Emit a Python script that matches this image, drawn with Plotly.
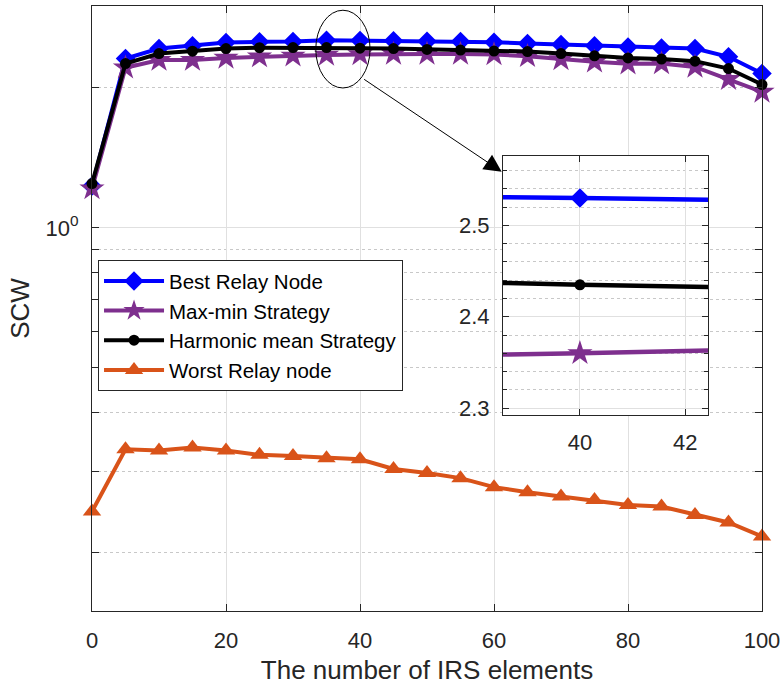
import plotly.graph_objects as go

# ---------------- data ----------------
irs_elements = [0, 5, 10, 15, 20, 25, 30, 35, 40, 45, 50, 55, 60, 65, 70, 75, 80, 85, 90, 95, 100]

best_relay = [1.230, 2.313, 2.430, 2.463, 2.503, 2.512, 2.515, 2.533, 2.530, 2.526, 2.520, 2.515,
              2.508, 2.492, 2.478, 2.463, 2.450, 2.438, 2.430, 2.333, 2.147]
max_min = [1.215, 2.210, 2.295, 2.295, 2.320, 2.335, 2.345, 2.355, 2.360, 2.366, 2.366, 2.365,
           2.360, 2.338, 2.302, 2.275, 2.255, 2.256, 2.219, 2.088, 1.960]
harmonic = [1.245, 2.256, 2.370, 2.399, 2.430, 2.440, 2.442, 2.442, 2.435, 2.430, 2.420, 2.412,
            2.400, 2.394, 2.370, 2.344, 2.320, 2.306, 2.283, 2.201, 2.033]
worst_relay = [0.2455, 0.334, 0.332, 0.337, 0.332, 0.325, 0.323, 0.3197, 0.318, 0.303, 0.297, 0.2896,
               0.277, 0.270, 0.2644, 0.260, 0.2536, 0.2517, 0.2414, 0.2325, 0.217]

series_names = ["Best Relay Node", "Max-min Strategy", "Harmonic mean Strategy", "Worst Relay node"]
series_colors = ["#0000FF", "#7E2F8E", "#000000", "#D95319"]
series_symbols = ["diamond", "star", "circle", "triangle-up"]
series_sizes = [15, 19, 11, 16]
series_widths = [4, 4, 4, 4]

x_ticks = [0, 20, 40, 60, 80, 100]
y_major = [1]
y_major_text = ["10<sup>0</sup>"]
y_minor = [0.2, 0.3, 0.4, 0.5, 0.6, 0.7, 0.8, 0.9, 2]

inset_x_ticks = [40, 42]
inset_y_ticks = [2.3, 2.4, 2.5]

# ---------------- figure ----------------
fig = go.Figure()
all_series = [best_relay, max_min, harmonic, worst_relay]
for name, vals, col, sym, sz, lw in zip(series_names, all_series, series_colors,
                                        series_symbols, series_sizes, series_widths):
    fig.add_trace(go.Scatter(
        x=irs_elements, y=vals, name=name, mode="lines+markers",
        line=dict(color=col, width=lw), cliponaxis=False,
        marker=dict(symbol=sym, size=sz, color=col, line=dict(width=0)),
        xaxis="x", yaxis="y"))

for name, vals, col, sym, sz, lw in list(zip(series_names, all_series, series_colors,
                                             series_symbols, series_sizes, series_widths))[:3]:
    fig.add_trace(go.Scatter(
        x=irs_elements, y=vals, name=name, mode="lines+markers", showlegend=False,
        line=dict(color=col, width=lw + 0.5),
        marker=dict(symbol=sym, size=sz, color=col, line=dict(width=0)),
        xaxis="x2", yaxis="y2"))

FONT = "Liberation Sans, Arial, Helvetica, sans-serif"
AX = "#262626"
GRID = "#e0e0e0"
MINOR = "#c8c8c8"

fig.update_layout(
    width=780, height=688,
    margin=dict(l=92, r=18, t=6, b=77, autoexpand=False),
    paper_bgcolor="white", plot_bgcolor="white",
    font=dict(family=FONT, size=22, color=AX),
    xaxis=dict(
        domain=[0, 1], range=[0, 100], tickvals=x_ticks, automargin=False,
        showline=True, linecolor=AX, linewidth=1, mirror="ticks",
        ticks="inside", ticklen=7, tickcolor=AX,
        showgrid=True, gridcolor=GRID, gridwidth=1, zeroline=False,
        ticklabelstandoff=10, ticklabeloverflow="allow",
        title=dict(text="The number of IRS elements", font=dict(size=26), standoff=8),
    ),
    yaxis=dict(
        domain=[0, 1], type="log", range=[-0.8239, 0.4771], automargin=False,
        tickvals=y_major, ticktext=y_major_text,
        showline=True, linecolor=AX, linewidth=1, mirror="ticks",
        ticks="inside", ticklen=7, tickcolor=AX,
        showgrid=True, gridcolor=GRID, gridwidth=1, zeroline=False,
        ticklabelstandoff=8,
        minor=dict(tickvals=y_minor, ticks="inside", ticklen=7, tickcolor=AX,
                   showgrid=True, gridcolor=MINOR, griddash="dot", gridwidth=1),
        title=dict(text="SCW", font=dict(size=26), standoff=8),
    ),
    xaxis2=dict(
        domain=[0.6134, 0.9194], range=[38.54, 42.43], anchor="y2", automargin=False,
        tickvals=inset_x_ticks,
        showline=True, linecolor=AX, linewidth=1, mirror="ticks",
        ticks="inside", ticklen=6, tickcolor=AX,
        showgrid=True, gridcolor=GRID, zeroline=False,
        ticklabelstandoff=8,
    ),
    yaxis2=dict(
        domain=[0.324, 0.752], range=[2.2924, 2.576], anchor="x2", automargin=False,
        tickvals=inset_y_ticks, tickformat=".1f",
        showline=True, linecolor=AX, linewidth=1, mirror="ticks",
        ticks="inside", ticklen=6, tickcolor=AX,
        showgrid=True, gridcolor=GRID, zeroline=False,
        ticklabelstandoff=8,
        minor=dict(dtick=0.02, tick0=2.3, ticks="inside", ticklen=4, tickcolor=AX,
                   showgrid=True, gridcolor=MINOR, griddash="dot", gridwidth=1),
    ),
    legend=dict(
        x=0.009, y=0.580, xanchor="left", yanchor="top",
        bgcolor="white", bordercolor=AX, borderwidth=1,
        font=dict(size=20.5, color="#000000"),
        itemwidth=60, tracegroupgap=0,
    ),
    showlegend=True,
)

# zoom ellipse and arrow (main axes domain coordinates)
fig.add_shape(type="circle", xref="x domain", yref="y domain",
              x0=0.334, x1=0.415, y0=0.8645, y1=0.993,
              line=dict(color="black", width=1))
fig.add_annotation(xref="x domain", yref="y domain", axref="x domain", ayref="y domain",
                   x=0.6115, y=0.7261, ax=0.4039, ay=0.8805,
                   text="", showarrow=True, arrowhead=2, arrowsize=3.5,
                   arrowwidth=1, arrowcolor="black", standoff=0, startstandoff=0)

fig.write_html("out.html")
